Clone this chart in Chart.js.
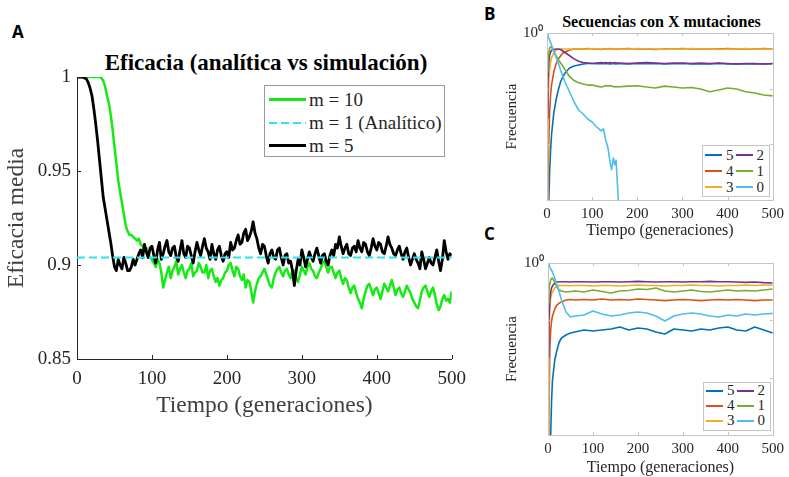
<!DOCTYPE html>
<html>
<head>
<meta charset="utf-8">
<script src="https://cdn.jsdelivr.net/npm/chart.js@4.4.0/dist/chart.umd.min.js"></script>
<style>
  body { margin: 0; background: #fff; }
  #page { position: relative; width: 789px; height: 477px; overflow: hidden; font-family: "Liberation Serif", "Times New Roman", serif; }
  canvas { position: absolute; }
  .letter { position: absolute; font: bold 17px "Open Sans", "Liberation Sans", sans-serif; color: #000; }
  .ptitle { position: absolute; text-align: center; font-weight: bold; color: #000; white-space: nowrap; font-family: "Liberation Serif", serif; }
  .legend { position: absolute; background: #fff; box-sizing: border-box; color: #262626; font-family: "Liberation Serif", serif; }
  .legend .item { display: flex; align-items: center; white-space: nowrap; }
  .legend .sw { display: inline-block; }
</style>
</head>
<body>
<div id="page">
  <div class="letter" style="left:12px;top:20px">A</div>
  <div class="letter" style="left:484px;top:2px">B</div>
  <div class="letter" style="left:484px;top:222px">C</div>

  <div class="ptitle" style="left:77px;top:49px;width:378px;font-size:23px;line-height:28px">Eficacia (analítica vs simulación)</div>
  <div class="ptitle" style="left:547px;top:12px;width:229px;font-size:16px;line-height:20px">Secuencias con X mutaciones</div>

  <canvas id="chartA" width="475" height="430" style="left:0;top:0"></canvas>
  <canvas id="chartB" width="309" height="245" style="left:480px;top:0"></canvas>
  <canvas id="chartC" width="309" height="232" style="left:480px;top:245px"></canvas>

  <div class="legend" id="legA" style="left:264px;top:85px;width:181px;height:72px;border:1px solid #9a9a9a;padding-top:2px;font-size:19px"></div>
  <div class="legend" id="legB" style="left:702px;top:145px;width:68px;height:52px;border:1px solid #c4c4c4;padding-top:1px;font-size:15px"></div>
  <div class="legend" id="legC" style="left:703px;top:382px;width:68px;height:49px;border:1px solid #c4c4c4;padding-top:0px;font-size:15px"></div>
</div>
<script>
// ---- panel A: eficacia media vs tiempo (one value every 2.5 generations) ----
const genA = [0,2.5,5,7.5,10,12.5,15,17.5,20,22.5,25,27.5,30,32.5,35,37.5,40,42.5,45,47.5,
  50,52.5,55,57.5,60,62.5,65,67.5,70,72.5,75,77.5,80,82.5,85,87.5,90,92.5,95,97.5,
  100,102.5,105,107.5,110,112.5,115,117.5,120,122.5,125,127.5,130,132.5,135,137.5,140,142.5,145,147.5,
  150,152.5,155,157.5,160,162.5,165,167.5,170,172.5,175,177.5,180,182.5,185,187.5,190,192.5,195,197.5,
  200,202.5,205,207.5,210,212.5,215,217.5,220,222.5,225,227.5,230,232.5,235,237.5,240,242.5,245,247.5,
  250,252.5,255,257.5,260,262.5,265,267.5,270,272.5,275,277.5,280,282.5,285,287.5,290,292.5,295,297.5,
  300,302.5,305,307.5,310,312.5,315,317.5,320,322.5,325,327.5,330,332.5,335,337.5,340,342.5,345,347.5,
  350,352.5,355,357.5,360,362.5,365,367.5,370,372.5,375,377.5,380,382.5,385,387.5,390,392.5,395,397.5,
  400,402.5,405,407.5,410,412.5,415,417.5,420,422.5,425,427.5,430,432.5,435,437.5,440,442.5,445,447.5,
  450,452.5,455,457.5,460,462.5,465,467.5,470,472.5,475,477.5,480,482.5,485,487.5,490,492.5,495,497.5,500];

const m10 = [1,1,1,1,1,1,1,1,1,1,1,1,1,0.9995,0.998,0.995,0.990,0.986,0.980,0.972,
  0.963,0.954,0.945,0.939,0.933,0.927,0.921,0.918,0.916,0.916,0.915,0.914,0.913,0.914,0.911,0.910,0.908,0.909,0.906,0.904,
  0.903,0.901,0.899,0.903,0.901,0.896,0.888,0.892,0.896,0.899,0.893,0.897,0.899,0.902,0.895,0.898,0.900,0.896,0.893,0.897,
  0.898,0.901,0.894,0.896,0.897,0.901,0.899,0.896,0.896,0.900,0.893,0.897,0.898,0.894,0.891,0.893,0.889,0.892,0.893,0.896,
  0.897,0.900,0.901,0.897,0.894,0.899,0.898,0.894,0.892,0.895,0.888,0.892,0.891,0.886,0.880,0.886,0.890,0.893,0.894,0.896,
  0.898,0.895,0.892,0.889,0.888,0.893,0.896,0.898,0.899,0.896,0.894,0.897,0.898,0.895,0.893,0.897,0.897,0.893,0.891,0.895,
  0.899,0.897,0.895,0.899,0.901,0.898,0.897,0.894,0.893,0.896,0.898,0.901,0.902,0.899,0.896,0.899,0.899,0.896,0.893,0.896,
  0.897,0.893,0.890,0.893,0.892,0.888,0.885,0.888,0.889,0.885,0.882,0.880,0.877,0.882,0.886,0.889,0.890,0.887,0.884,0.887,
  0.888,0.885,0.882,0.886,0.890,0.888,0.886,0.889,0.892,0.888,0.884,0.887,0.888,0.885,0.883,0.886,0.889,0.887,0.885,0.882,
  0.880,0.878,0.877,0.881,0.886,0.888,0.889,0.886,0.883,0.886,0.888,0.884,0.879,0.876,0.878,0.882,0.884,0.881,0.882,0.880,0.886];

const m5 = [1,1,1,1,0.9995,0.999,0.997,0.994,0.990,0.983,0.975,0.966,0.956,0.946,0.936,0.930,0.924,0.918,0.912,0.905,
  0.899,0.897,0.903,0.900,0.898,0.904,0.901,0.897,0.897,0.899,0.903,0.900,0.903,0.906,0.908,0.904,0.911,0.907,0.904,0.909,
  0.910,0.905,0.901,0.908,0.912,0.903,0.906,0.910,0.913,0.907,0.905,0.909,0.910,0.904,0.902,0.908,0.913,0.906,0.904,0.910,
  0.909,0.905,0.901,0.907,0.912,0.908,0.905,0.910,0.914,0.909,0.907,0.903,0.911,0.906,0.903,0.908,0.910,0.905,0.902,0.906,
  0.907,0.904,0.912,0.908,0.909,0.913,0.916,0.911,0.912,0.917,0.919,0.913,0.915,0.918,0.923,0.917,0.914,0.909,0.906,0.911,
  0.910,0.905,0.901,0.906,0.908,0.904,0.903,0.908,0.909,0.904,0.900,0.905,0.906,0.901,0.902,0.897,0.889,0.897,0.903,0.900,
  0.908,0.904,0.899,0.903,0.907,0.904,0.902,0.906,0.909,0.905,0.901,0.905,0.906,0.902,0.900,0.905,0.908,0.905,0.911,0.909,
  0.915,0.910,0.906,0.909,0.911,0.906,0.905,0.909,0.910,0.907,0.913,0.909,0.907,0.912,0.911,0.907,0.905,0.909,0.914,0.910,
  0.908,0.912,0.911,0.907,0.906,0.910,0.915,0.911,0.909,0.906,0.905,0.908,0.910,0.906,0.903,0.907,0.909,0.904,0.900,0.903,
  0.906,0.903,0.901,0.898,0.907,0.903,0.898,0.901,0.904,0.901,0.900,0.904,0.908,0.902,0.897,0.903,0.913,0.907,0.903,0.906,0.905];

const genAnalytic = [0, 500];
const analytic = [0.904, 0.904];

const xTicks = [0, 100, 200, 300, 400, 500];
const yTicksA = [0.85, 0.9, 0.95, 1];
const yTickLabelsA = ["0.85", "0.9", "0.95", "1"];

// ---- panels B and C: frecuencia de secuencias con X mutaciones ----
const genB = [0,2,4,6,8,10,15,20,25,30,35,40,50,60,70,80,90,100,110,120,125,130,135,140,
  143,147,150,153,156,158,160,180,200,220,240,260,280,300,320,340,360,380,400,420,440,460,480,500];

const b5 = [0.0002,0.0003,0.001,0.0035,0.0079,0.0147,0.0365,0.0625,0.0946,0.132,0.162,0.191,0.235,0.255,0.266,0.277,0.283,0.283,0.280,0.283,
  0.280,0.283,0.280,0.277,0.280,0.283,0.280,0.277,0.280,0.283,0.280,0.277,0.283,0.280,0.283,0.277,0.280,0.283,0.277,0.280,
  0.277,0.283,0.277,0.280,0.277,0.280,0.277,0.280];
const b4 = [0.0003,0.001,0.012,0.0414,0.0769,0.116,0.199,0.277,0.341,0.386,0.437,0.456,0.495,0.516,0.516,0.516,0.527,0.516,0.516,0.505,
  0.516,0.516,0.516,0.527,0.516,0.516,0.516,0.505,0.516,0.516,0.516,0.527,0.516,0.516,0.505,0.516,0.516,0.527,0.516,0.516,
  0.516,0.516,0.527,0.516,0.516,0.516,0.527,0.516];
const b3 = [0.0004,0.0414,0.143,0.235,0.301,0.356,0.437,0.495,0.505,0.516,0.516,0.516,0.516,0.516,0.516,0.516,0.516,0.527,0.516,0.516,
  0.516,0.505,0.516,0.516,0.516,0.516,0.516,0.516,0.516,0.516,0.516,0.516,0.527,0.516,0.516,0.505,0.516,0.516,0.527,0.516,
  0.516,0.505,0.516,0.516,0.527,0.516,0.516,0.516];
const b2 = [0.0297,0.143,0.301,0.403,0.456,0.484,0.505,0.516,0.516,0.505,0.475,0.446,0.390,0.343,0.310,0.295,0.289,0.283,0.289,0.295,
  0.289,0.295,0.289,0.295,0.289,0.289,0.295,0.289,0.289,0.289,0.289,0.283,0.289,0.295,0.289,0.283,0.289,0.289,0.283,0.289,
  0.283,0.289,0.283,0.277,0.283,0.283,0.277,0.283];
const b1 = [0.199,0.314,0.437,0.538,0.568,0.560,0.480,0.390,0.330,0.290,0.255,0.220,0.164,0.140,0.128,0.121,0.116,0.116,0.111,0.107,
  0.109,0.114,0.111,0.114,0.111,0.109,0.107,0.109,0.107,0.108,0.108,0.111,0.113,0.107,0.103,0.111,0.107,0.103,0.105,0.0987,
  0.0883,0.0946,0.103,0.0987,0.0883,0.0836,0.0769,0.0741];
const b0 = [1,0.902,0.813,0.748,0.675,0.609,0.475,0.371,0.289,0.216,0.169,0.132,0.0871,0.0576,0.0414,0.0351,0.0285,0.0252,0.0205,0.0174,
  0.019,0.012,0.0086,0.0046,0.0035,0.0057,0.0043,0.0052,0.0019,0.001,0.0004,null,null,null,null,null,null,null,null,null,
  null,null,null,null,null,null,null,null];

const genC = [0,2,4,6,8,10,15,20,25,30,40,50,60,80,100,120,140,160,180,200,220,240,260,280,300,
  320,340,360,380,400,420,440,460,480,500];

const c5 = [0.0002,0.0003,0.0005,0.001,0.0041,0.0091,0.0203,0.0304,0.0419,0.0492,0.0555,0.0601,0.0626,
  0.0678,0.0651,0.0678,0.0706,0.0765,0.0678,0.0735,0.0706,0.0626,0.0577,0.0706,0.0678,0.0651,0.0706,0.0678,0.0735,0.0765,0.0678,0.0651,0.0765,0.0678,0.0601];
const c4 = [0.0003,0.0018,0.0304,0.0678,0.0974,0.119,0.158,0.185,0.200,0.209,0.226,0.231,0.226,
  0.231,0.226,0.236,0.226,0.231,0.226,0.236,0.231,0.226,0.221,0.226,0.231,0.226,0.221,0.226,0.231,0.226,0.231,0.226,0.221,0.226,0.226];
const c3 = [0.0004,0.0454,0.151,0.245,0.288,0.312,0.366,0.389,0.405,0.405,0.405,0.400,0.405,
  0.405,0.397,0.405,0.405,0.397,0.405,0.413,0.405,0.405,0.397,0.405,0.405,0.413,0.405,0.405,0.397,0.405,0.405,0.413,0.405,0.413,0.413];
const c2 = [0.0229,0.101,0.226,0.312,0.366,0.397,0.448,0.466,0.472,0.472,0.472,0.466,0.472,
  0.472,0.466,0.472,0.472,0.466,0.472,0.478,0.472,0.466,0.472,0.472,0.466,0.472,0.472,0.478,0.472,0.472,0.466,0.460,0.466,0.455,0.448];
const c1 = [0.200,0.325,0.430,0.505,0.537,0.547,0.466,0.381,0.338,0.325,0.312,0.318,0.325,
  0.312,0.338,0.318,0.300,0.325,0.331,0.352,0.345,0.366,0.325,0.312,0.325,0.338,0.318,0.312,0.325,0.338,0.325,0.331,0.325,0.338,0.352];
const c0 = [1,0.923,0.851,0.786,0.740,0.697,0.547,0.413,0.312,0.226,0.140,0.114,0.119,
  0.124,0.146,0.129,0.119,0.124,0.134,0.140,0.134,0.119,0.0974,0.119,0.129,0.134,0.129,0.119,0.114,0.124,0.119,0.129,0.124,0.129,0.132];

const decades = [0.001, 0.01, 0.1, 1];
const mutLabels = ["5", "4", "3", "2", "1", "0"];
const mutColors = ["#0072BD", "#D95319", "#EDB120", "#7E2F8E", "#77AC30", "#4DBEEE"];

const SERIF = '"Liberation Serif", "Times New Roman", serif';
Chart.defaults.font.family = SERIF;
Chart.defaults.color = "#262626";
Chart.defaults.animation = false;

const pts = (xs, ys) => xs.map((x, i) => ({ x: x, y: ys[i] }));

// matlab style ticks pointing into the axes
const inwardTicks = {
  id: "inwardTicks",
  afterDraw(chart, args, opts) {
    const { ctx, chartArea: a } = chart;
    const xs = chart.scales.x, ys = chart.scales.y;
    const len = opts.length;
    ctx.save();
    ctx.strokeStyle = opts.color;
    ctx.lineWidth = 1;
    ctx.beginPath();
    if (opts.box) {
      ctx.rect(Math.round(a.left) + 0.5, Math.round(a.top) + 0.5,
        Math.round(a.right - a.left), Math.round(a.bottom - a.top));
    }
    xs.ticks.forEach((t) => {
      const px = Math.round(xs.getPixelForValue(t.value)) + 0.5;
      ctx.moveTo(px, a.bottom);
      ctx.lineTo(px, a.bottom - len);
      if (opts.box) { ctx.moveTo(px, a.top); ctx.lineTo(px, a.top + len); }
    });
    ys.ticks.forEach((t) => {
      const py = Math.round(ys.getPixelForValue(t.value)) + 0.5;
      ctx.moveTo(a.left, py);
      ctx.lineTo(a.left + len, py);
      if (opts.box) { ctx.moveTo(a.right, py); ctx.lineTo(a.right - len, py); }
    });
    ctx.stroke();
    ctx.restore();
  },
};

let chartA = new Chart(document.getElementById("chartA"), {
  type: "line",
  data: {
    datasets: [
      { label: "m = 10", data: pts(genA, m10), borderColor: "#14ea14", borderWidth: 2.5, order: 2 },
      { label: "m = 1 (Analítico)", data: pts(genAnalytic, analytic), borderColor: "#2fe3ef", borderWidth: 2, borderDash: [8, 4], order: 0 },
      { label: "m = 5", data: pts(genA, m5), borderColor: "#000000", borderWidth: 2.8, order: 1 },
    ],
  },
  options: {
    responsive: false,
    animation: false,
    layout: { padding: { left: 0, right: 20, top: 77, bottom: 0 } },
    elements: { point: { radius: 0 }, line: { tension: 0, borderJoinStyle: "round" } },
    plugins: {
      legend: { display: false },
      tooltip: { enabled: false },
      inwardTicks: { color: "#262626", length: 4, box: false },
    },
    scales: {
      x: {
        type: "linear", min: 0, max: 500,
        afterBuildTicks: (s) => { s.ticks = xTicks.map((v) => ({ value: v })); },
        ticks: { font: { family: SERIF, size: 19 }, padding: 9, maxRotation: 0, color: "#262626" },
        grid: { display: false, drawTicks: false },
        border: { display: true, color: "#262626", width: 1 },
        title: { display: true, text: "Tiempo (generaciones)", font: { family: SERIF, size: 23.5 }, color: "#404040", padding: { top: 0, bottom: 10 } },
        afterFit: (s) => { s.height = 71; },
      },
      y: {
        type: "linear", min: 0.85, max: 1,
        afterBuildTicks: (s) => { s.ticks = yTicksA.map((v) => ({ value: v })); },
        ticks: { font: { family: SERIF, size: 19 }, padding: 6, color: "#262626",
          callback: (v, i) => yTickLabelsA[i] },
        grid: { display: false, drawTicks: false },
        border: { display: true, color: "#262626", width: 1 },
        title: { display: true, text: "Eficacia media", font: { family: SERIF, size: 23.5 }, color: "#404040", padding: { top: 3, bottom: 0 } },
        afterFit: (s) => { s.width = 77; },
      },
    },
  },
  plugins: [inwardTicks],
});

function mutChart(id, gens, series, topPad, yWidth, xHeight, xTitlePad) {
  return new Chart(document.getElementById(id), {
    type: "line",
    data: {
      datasets: series.map((s, i) => ({
        label: mutLabels[i],
        data: pts(gens, s),
        borderColor: mutColors[i],
        borderWidth: 1.6,
        order: series.length - i,
      })),
    },
    options: {
      responsive: false,
      animation: false,
      layout: { padding: { left: 0, right: 13, top: topPad, bottom: 0 } },
      elements: { point: { radius: 0 }, line: { tension: 0, borderJoinStyle: "round" } },
      plugins: {
        legend: { display: false },
        tooltip: { enabled: false },
        inwardTicks: { color: "#c4c4c4", length: 3, box: true },
      },
      scales: {
        x: {
          type: "linear", min: 0, max: 500,
          afterBuildTicks: (s) => { s.ticks = xTicks.map((v) => ({ value: v })); },
          ticks: { font: { family: SERIF, size: 15 }, padding: 5, maxRotation: 0, color: "#262626" },
          grid: { display: false, drawTicks: false },
          border: { display: false },
          title: { display: true, text: "Tiempo (generaciones)", font: { family: SERIF, size: 16 }, color: "#262626", padding: { top: 0, bottom: xTitlePad } },
          afterFit: (s) => { s.height = xHeight; },
        },
        y: {
          type: "logarithmic", min: 0.001, max: 1,
          afterBuildTicks: (s) => { s.ticks = decades.map((v) => ({ value: v })); },
          ticks: { font: { family: SERIF, size: 15 }, padding: 4, color: "#262626",
            callback: (v) => (v === 1 ? "10⁰" : "") },
          grid: { display: false, drawTicks: false },
          border: { display: false },
          title: { display: true, text: "Frecuencia", font: { family: SERIF, size: 15 }, color: "#262626", padding: { top: 23, bottom: 0 } },
          afterFit: (s) => { s.width = yWidth; },
        },
      },
    },
    plugins: [inwardTicks],
  });
}

let chartB = mutChart("chartB", genB, [b5, b4, b3, b2, b1, b0], 33, 67, 45, 5);
let chartC = mutChart("chartC", genC, [c5, c4, c3, c2, c1, c0], 18, 68, 42, 0);

function buildLegend(boxId, chart, opts) {
  const box = document.getElementById(boxId);
  if (opts.columns) {
    box.style.display = "grid";
    box.style.gridTemplateColumns = "repeat(" + opts.columns + ", auto)";
    box.style.gridTemplateRows = "repeat(" + opts.rows + ", " + opts.rowH + "px)";
    box.style.gridAutoFlow = "column";
    box.style.justifyContent = "start";
  }
  chart.data.datasets.forEach((ds) => {
    const item = document.createElement("div");
    item.className = "item";
    item.style.height = opts.rowH + "px";
    const sw = document.createElement("span");
    sw.className = "sw";
    sw.style.width = opts.swW + "px";
    sw.style.height = Math.max(ds.borderWidth, 2) + "px";
    sw.style.marginLeft = opts.swL + "px";
    sw.style.marginRight = opts.gap + "px";
    if (ds.borderDash) {
      const d = ds.borderDash;
      sw.style.background = "repeating-linear-gradient(to right, " + ds.borderColor + " 0 " + d[0] + "px, transparent " + d[0] + "px " + (d[0] + d[1]) + "px)";
    } else {
      sw.style.background = ds.borderColor;
    }
    item.appendChild(sw);
    item.appendChild(document.createTextNode(ds.label));
    box.appendChild(item);
  });
}

buildLegend("legA", chartA, { rowH: 23, swW: 37, swL: 4, gap: 3 });
buildLegend("legB", chartB, { columns: 2, rows: 3, rowH: 16, swW: 17, swL: 2, gap: 4 });
buildLegend("legC", chartC, { columns: 2, rows: 3, rowH: 15, swW: 17, swL: 2, gap: 4 });
</script>
</body>
</html>
